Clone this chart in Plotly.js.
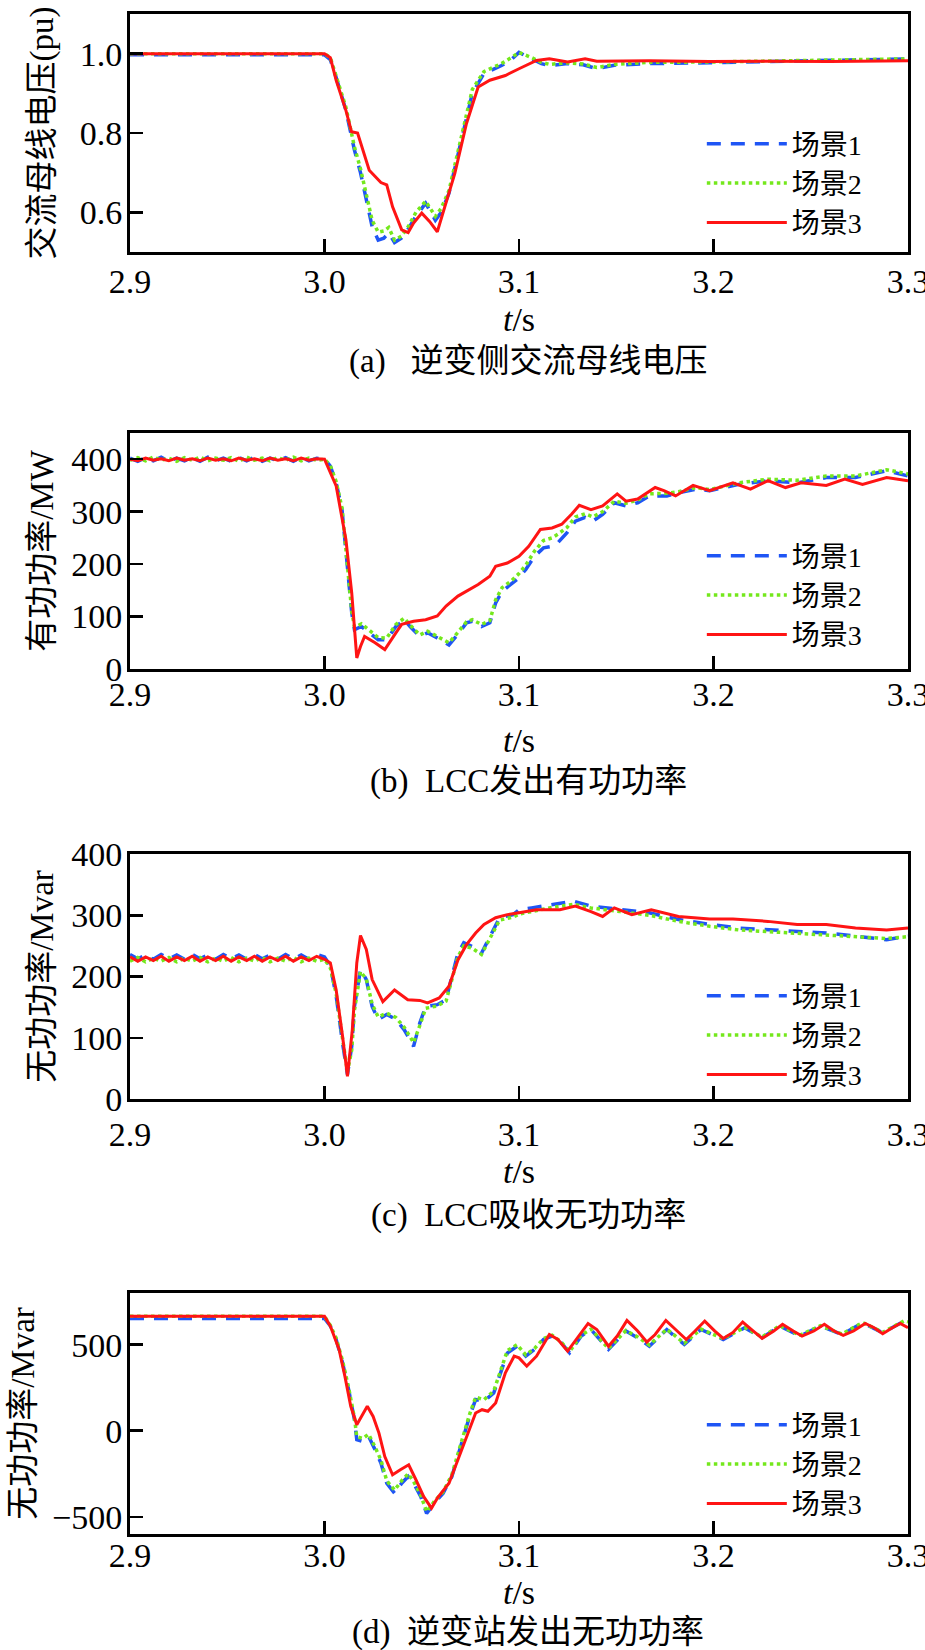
<!DOCTYPE html>
<html><head><meta charset="utf-8">
<script src="https://cdn.plot.ly/plotly-3.0.1.min.js"></script>
<style>html,body{margin:0;padding:0;background:#fff;}</style>
</head><body><div id="chart" style="width:925px;height:1650px;"></div>
<script>
const seriesNames = ['场景1', '场景2', '场景3'];
const xTickVals = [2.9, 3.0, 3.1, 3.2, 3.3];
const xTickText = ['2.9', '3.0', '3.1', '3.2', '3.3'];
const captions = ['(a)\u00a0\u00a0\u00a0逆变侧交流母线电压', '(b)\u00a0\u00a0LCC发出有功功率', '(c)\u00a0\u00a0LCC吸收无功功率', '(d)\u00a0\u00a0逆变站发出无功功率'];
const yTitles = ['交流母线电压(pu)', '有功功率/MW', '无功功率/Mvar', '无功功率/Mvar'];

// (a) AC bus voltage, pu
const tA12 = [2.9, 2.95, 3.0, 3.003, 3.006, 3.011, 3.0154, 3.0185, 3.0215, 3.0245,
  3.0276, 3.0305, 3.033, 3.036, 3.0395, 3.0428, 3.047, 3.052, 3.057, 3.060,
  3.064, 3.07, 3.076, 3.082, 3.091, 3.096, 3.1, 3.1065, 3.1115, 3.1156,
  3.125, 3.133, 3.14, 3.149, 3.167, 3.198, 3.228, 3.258, 3.28, 3.3];
const vA1 = [0.997, 0.997, 0.997, 0.985, 0.94, 0.857, 0.757, 0.70, 0.63, 0.564,
  0.53, 0.535, 0.548, 0.524, 0.535, 0.556, 0.59, 0.623, 0.58, 0.60,
  0.648, 0.774, 0.90, 0.95, 0.97, 0.985, 1.003, 0.987, 0.975, 0.970,
  0.975, 0.972, 0.962, 0.971, 0.975, 0.977, 0.980, 0.983, 0.985, 0.987];
const vA2 = [1.0, 1.0, 1.0, 0.99, 0.945, 0.865, 0.765, 0.71, 0.645, 0.58,
  0.55, 0.553, 0.562, 0.53, 0.54, 0.562, 0.60, 0.628, 0.59, 0.61,
  0.655, 0.785, 0.91, 0.955, 0.975, 0.99, 1.003, 0.99, 0.978, 0.973,
  0.977, 0.974, 0.965, 0.973, 0.978, 0.979, 0.982, 0.985, 0.986, 0.987];
const tA3 = [2.9, 2.95, 3.0, 3.003, 3.006, 3.011, 3.0139, 3.017, 3.020, 3.023,
  3.029, 3.032, 3.035, 3.0397, 3.043, 3.0458, 3.050, 3.054, 3.058, 3.061,
  3.067, 3.073, 3.079, 3.085, 3.093, 3.1, 3.109, 3.1156, 3.125, 3.134,
  3.14, 3.167, 3.198, 3.228, 3.26, 3.3];
const vA3 = [1.0, 1.0, 1.0, 0.99, 0.933, 0.857, 0.803, 0.80, 0.75, 0.706,
  0.675, 0.669, 0.614, 0.556, 0.549, 0.573, 0.598, 0.577, 0.551, 0.598,
  0.698, 0.824, 0.916, 0.933, 0.945, 0.962, 0.983, 0.987, 0.979, 0.987,
  0.981, 0.982, 0.980, 0.981, 0.980, 0.982];

// pre-fault sample times (steady-state ripple in panels b and c)
const tPre = [2.9, 2.904, 2.908, 2.912, 2.916, 2.92, 2.924, 2.928, 2.932, 2.936,
  2.94, 2.944, 2.948, 2.952, 2.956, 2.96, 2.964, 2.968, 2.972, 2.976,
  2.98, 2.984, 2.988, 2.992, 2.996];

// (b) LCC active power, MW
const vB1pre = [402, 396, 403, 397, 404, 396, 402, 397, 403, 396,
  404, 397, 402, 396, 403, 397, 404, 396, 402, 397,
  403, 396, 404, 397, 402];
const vB2pre = [398, 403, 397, 404, 398, 402, 396, 403, 398, 404,
  397, 402, 398, 403, 396, 404, 398, 402, 397, 403,
  398, 404, 397, 402, 398];
const vB3pre = [400, 397, 402, 398, 401, 397, 402, 398, 401, 397,
  402, 398, 401, 397, 402, 398, 401, 397, 402, 398,
  401, 397, 402, 398, 401];
const tB12 = [3.0, 3.003, 3.006, 3.009, 3.011, 3.0124, 3.014, 3.0154, 3.019,
  3.023, 3.0276, 3.032, 3.0367, 3.041, 3.044, 3.049, 3.053, 3.058, 3.064,
  3.0686, 3.073, 3.076, 3.0807, 3.085, 3.088, 3.0913, 3.096, 3.1, 3.1035,
  3.108, 3.1126, 3.117, 3.120, 3.1247, 3.129, 3.134, 3.138, 3.143, 3.149,
  3.155, 3.161, 3.167, 3.176, 3.182, 3.191, 3.198, 3.213, 3.228, 3.243,
  3.258, 3.273, 3.289, 3.3];
const vB1 = [400, 387, 355, 304, 228, 171, 107, 75, 81,
  69, 56, 56, 81, 94, 81, 62, 69, 59, 46,
  66, 88, 91, 81, 88, 126, 148, 161, 174, 190,
  215, 231, 234, 241, 260, 282, 289, 282, 295, 317,
  311, 317, 330, 330, 336, 343, 340, 352, 359, 355,
  365, 365, 378, 368];
const vB2 = [400, 388, 357, 307, 232, 175, 110, 80, 86,
  74, 60, 59, 85, 97, 84, 65, 72, 62, 50,
  70, 90, 94, 85, 92, 132, 155, 168, 182, 198,
  225, 245, 250, 257, 270, 290, 296, 290, 300, 320,
  316, 322, 334, 335, 338, 346, 342, 355, 362, 360,
  368, 368, 380, 372];
const tB3 = [3.0, 3.006, 3.011, 3.014, 3.0154, 3.0166, 3.0185, 3.0206, 3.026,
  3.031, 3.0367, 3.0397, 3.0458, 3.052, 3.058, 3.0625, 3.0686, 3.075, 3.079,
  3.085, 3.088, 3.094, 3.1, 3.105, 3.111, 3.117, 3.122, 3.127, 3.131,
  3.137, 3.143, 3.1505, 3.155, 3.161, 3.170, 3.1745, 3.1805, 3.1895, 3.198,
  3.210, 3.219, 3.228, 3.237, 3.245, 3.258, 3.2675, 3.2766, 3.289, 3.3];
const vB3 = [400, 349, 247, 145, 69, 21, 43, 62, 50,
  37, 69, 85, 91, 94, 101, 120, 139, 152, 161,
  177, 196, 202, 215, 234, 266, 269, 276, 295, 312,
  304, 311, 334, 320, 324, 346, 340, 330, 350, 340,
  355, 343, 359, 346, 355, 350, 362, 352, 365, 359];

// (c) LCC absorbed reactive power, Mvar
const vC1pre = [236, 229, 235, 228, 236, 229, 235, 228, 236, 229,
  235, 228, 236, 229, 235, 228, 236, 229, 235, 228,
  236, 229, 235, 228, 236];
const vC2pre = [225, 231, 224, 230, 225, 231, 224, 230, 225, 231,
  224, 230, 225, 231, 224, 230, 225, 231, 224, 230,
  225, 231, 224, 230, 225];
const vC3pre = [232, 225, 232, 226, 233, 225, 232, 226, 233, 225,
  232, 226, 233, 225, 232, 226, 233, 225, 232, 226,
  233, 225, 232, 226, 233];
const tC12 = [3.0, 3.003, 3.006, 3.0093, 3.0118, 3.014, 3.0154, 3.0185, 3.0215,
  3.0245, 3.0276, 3.032, 3.0367, 3.041, 3.0458, 3.049, 3.052, 3.058, 3.0625,
  3.0655, 3.0686, 3.0716, 3.076, 3.0807, 3.085, 3.09, 3.097, 3.1, 3.1065,
  3.1156, 3.128, 3.137, 3.152, 3.167, 3.182, 3.198, 3.213, 3.228, 3.243,
  3.258, 3.273, 3.289, 3.3];
const vC1 = [232, 217, 168, 91, 40, 86, 151, 211, 195,
  151, 130, 138, 130, 113, 86, 124, 151, 154, 162,
  200, 238, 255, 249, 238, 266, 296, 301, 309, 312,
  317, 323, 315, 309, 304, 293, 285, 279, 276, 274,
  271, 266, 260, 266];
const vC2 = [228, 214, 172, 98, 45, 80, 145, 208, 196,
  155, 134, 140, 133, 117, 92, 120, 148, 152, 160,
  195, 232, 250, 246, 236, 262, 292, 297, 302, 306,
  312, 318, 312, 306, 300, 290, 282, 276, 273, 270,
  268, 264, 262, 265];
const tC3 = [3.0, 3.003, 3.006, 3.0093, 3.0118, 3.0143, 3.0166, 3.0185, 3.0215,
  3.0245, 3.030, 3.036, 3.0428, 3.049, 3.053, 3.059, 3.064, 3.0686, 3.073,
  3.0777, 3.082, 3.088, 3.094, 3.1, 3.109, 3.121, 3.129, 3.137, 3.143,
  3.149, 3.158, 3.168, 3.182, 3.198, 3.21, 3.228, 3.243, 3.258, 3.273,
  3.289, 3.3];
const vC3 = [228, 222, 178, 102, 37, 113, 222, 267, 244,
  195, 159, 178, 162, 161, 157, 165, 184, 227, 252,
  271, 285, 296, 301, 304, 309, 309, 315, 306, 298,
  312, 301, 309, 298, 294, 294, 290, 285, 285, 279,
  276, 279];

// (d) inverter station reactive power output, Mvar
const tD12 = [2.9, 3.0, 3.003, 3.006, 3.0093, 3.0124, 3.0154, 3.0166, 3.0197, 3.0227,
  3.026, 3.029, 3.032, 3.036, 3.0397, 3.043, 3.0458, 3.0495, 3.0525, 3.0565,
  3.061, 3.0655, 3.07, 3.0746, 3.0777, 3.082, 3.087, 3.091, 3.094, 3.099,
  3.1035, 3.108, 3.1126, 3.117, 3.1217, 3.126, 3.132, 3.137, 3.146, 3.155,
  3.161, 3.167, 3.176, 3.185, 3.1935, 3.205, 3.216, 3.225, 3.234, 3.2445,
  3.255, 3.266, 3.2766, 3.287, 3.298, 3.3];
const vD1 = [652, 652, 608, 530, 394, 239, 64, -52, -62, -33,
  -111, -188, -305, -363, -305, -266, -305, -383, -480, -421,
  -363, -266, -91, 83, 181, 171, 219, 355, 451, 491,
  433, 472, 530, 550, 511, 452, 550, 588, 472, 579,
  540, 491, 588, 501, 588, 530, 598, 540, 608, 550,
  608, 559, 627, 569, 637, 630];
const vD2 = [665, 665, 612, 538, 405, 250, 75, -35, -45, -20,
  -95, -170, -290, -345, -290, -250, -295, -375, -470, -410,
  -355, -255, -80, 95, 195, 180, 230, 368, 465, 500,
  440, 478, 535, 555, 515, 460, 555, 590, 478, 582,
  545, 498, 590, 508, 590, 535, 600, 545, 610, 555,
  610, 562, 628, 572, 638, 632];
const tD3 = [2.9, 3.0, 3.003, 3.0075, 3.0105, 3.0135, 3.0166, 3.019, 3.022, 3.025,
  3.028, 3.031, 3.035, 3.039, 3.0433, 3.047, 3.051, 3.055, 3.058, 3.064,
  3.0686, 3.073, 3.0777, 3.081, 3.084, 3.088, 3.093, 3.0975, 3.1, 3.104,
  3.109, 3.1156, 3.12, 3.125, 3.131, 3.1355, 3.14, 3.146, 3.1505, 3.1555,
  3.161, 3.1657, 3.170, 3.1755, 3.1805, 3.186, 3.1905, 3.1955, 3.2007, 3.205,
  3.21, 3.215, 3.2205, 3.225, 3.231, 3.2355, 3.241, 3.2455, 3.2516, 3.257,
  3.262, 3.2667, 3.272, 3.278, 3.2826, 3.287, 3.292, 3.296, 3.3];
const vD3 = [665, 665, 608, 472, 316, 142, 35, 83, 142, 83,
  -14, -150, -256, -227, -198, -285, -383, -450, -392, -305,
  -169, -33, 103, 122, 113, 161, 336, 433, 423, 375,
  433, 559, 530, 462, 550, 623, 588, 491, 550, 641,
  579, 515, 559, 641, 588, 530, 579, 637, 579, 536,
  571, 631, 579, 536, 579, 618, 579, 550, 579, 618,
  579, 554, 579, 623, 598, 563, 598, 623, 598];

const yRanges = [[0.5, 1.1], [0, 450], [0, 400], [-600, 800]];
const yTickVals = [[0.6, 0.8, 1.0], [0, 100, 200, 300, 400], [0, 100, 200, 300, 400], [-500, 0, 500]];
const yTickFormat = ['.1f', 'd', 'd', 'd'];

const panels = [
  {t: [tA12, tA12, tA3], v: [vA1, vA2, vA3]},
  {t: [tPre.concat(tB12), tPre.concat(tB12), tPre.concat(tB3)],
   v: [vB1pre.concat(vB1), vB2pre.concat(vB2), vB3pre.concat(vB3)]},
  {t: [tPre.concat(tC12), tPre.concat(tC12), tPre.concat(tC3)],
   v: [vC1pre.concat(vC1), vC2pre.concat(vC2), vC3pre.concat(vC3)]},
  {t: [tD12, tD12, tD3], v: [vD1, vD2, vD3]}
];

// ---- styling / layout (pixel geometry of the 925x1650 page) ----
const H = 1650;
const FONT = 'Liberation Serif, Noto Sans CJK SC, serif';
const boxTop = [14, 433, 854, 1293];
const boxBot = [252, 669, 1099, 1534];
const legendTop = [119, 531, 971, 1400];
const captionY = [362, 781, 1215, 1632];
const lineStyles = [
  {color: '#1f55f5', width: 3.5, dash: '14px,10px'},
  {color: '#74e81c', width: 3.5, dash: 'dot'},
  {color: '#ff1414', width: 3, dash: 'solid'}
];
const xLabelStandoff = [-3, -7, 3, -11];
const xTitleStandoff = [9, 17, 8, 8];
const yTitleStandoff = [17, 8, 8, 8];

const traces = [];
const layout = {
  width: 925, height: H,
  margin: {l: 130, r: 17, t: 0, b: 0},
  paper_bgcolor: '#fff', plot_bgcolor: '#fff',
  font: {family: FONT, size: 34, color: '#000'},
  annotations: [],
  showlegend: true
};

panels.forEach((p, i) => {
  const n = i === 0 ? '' : String(i + 1);
  const legName = 'legend' + n;
  for (let s = 0; s < 3; s++) {
    traces.push({
      type: 'scatter', mode: 'lines',
      x: p.t[s], y: p.v[s],
      xaxis: 'x' + n, yaxis: 'y' + n,
      name: seriesNames[s],
      legend: legName,
      line: Object.assign({shape: 'linear'}, lineStyles[s])
    });
  }
  layout['xaxis' + n] = {
    domain: [0, 1], anchor: 'y' + n,
    range: [2.9, 3.3], tickvals: xTickVals, ticktext: xTickText,
    ticks: 'inside', ticklen: 13, tickwidth: 2.5, tickcolor: '#000',
    showline: true, linewidth: 3, linecolor: '#000', mirror: true,
    showgrid: false, zeroline: false,
    tickfont: {family: FONT, size: 34, color: '#000'},
    ticklabelstandoff: xLabelStandoff[i],
    ticklabeloverflow: 'allow',
    title: {text: '<i>t</i>/s', font: {family: FONT, size: 34, color: '#000'}, standoff: xTitleStandoff[i]}
  };
  layout['yaxis' + n] = {
    domain: [1 - boxBot[i] / H, 1 - boxTop[i] / H], anchor: 'x' + n,
    range: yRanges[i], tickvals: yTickVals[i], tickformat: yTickFormat[i],
    ticks: 'inside', ticklen: 13, tickwidth: 2.5, tickcolor: '#000',
    showline: true, linewidth: 3, linecolor: '#000', mirror: true,
    showgrid: false, zeroline: false,
    tickfont: {family: FONT, size: 34, color: '#000'},
    ticklabelstandoff: -2,
    ticklabeloverflow: 'allow',
    title: {text: yTitles[i], font: {family: FONT, size: 33, color: '#000'}, standoff: yTitleStandoff[i]}
  };
  layout[legName] = {
    x: 0.735, xanchor: 'left',
    y: 1 - legendTop[i] / H, yanchor: 'top',
    bgcolor: 'rgba(0,0,0,0)', borderwidth: 0,
    font: {family: FONT, size: 28, color: '#000'},
    itemwidth: 80, traceorder: 'normal'
  };
  layout.annotations.push({
    xref: 'paper', yref: 'paper', x: 0.5116, y: 1 - captionY[i] / H,
    xanchor: 'center', yanchor: 'middle', showarrow: false,
    text: captions[i], font: {family: FONT, size: 33, color: '#000'}
  });
});

Plotly.newPlot('chart', traces, layout, {staticPlot: true, displayModeBar: false});
</script>
</body></html>
